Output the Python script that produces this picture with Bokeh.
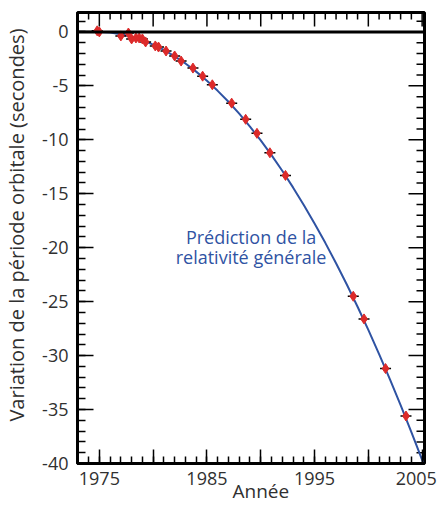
import math
from bokeh.plotting import figure
from bokeh.models import Range1d, SingleIntervalTicker, Span, Label
from bokeh.embed import file_html
from bokeh.resources import INLINE

# observed data (year, cumulative shift in seconds)
obs_year = [1974.8, 1975.0, 1977.0, 1977.7, 1978.0, 1978.4, 1978.7, 1979.0, 1979.3,
            1980.2, 1980.5, 1981.2, 1982.0, 1982.6, 1983.7, 1984.6, 1985.5,
            1987.3, 1988.6, 1989.65, 1990.85, 1992.3, 1998.6, 1999.6, 2001.6, 2003.5]
obs_shift = [0.1, 0.0, -0.37, -0.1, -0.65, -0.56, -0.56, -0.65, -0.93,
             -1.3, -1.4, -1.77, -2.23, -2.7, -3.35, -4.1, -4.9,
             -6.6, -8.1, -9.4, -11.2, -13.3, -24.5, -26.6, -31.2, -35.6]

# general relativity prediction curve
gr_year = [1975, 1976, 1977, 1978, 1979, 1980, 1981, 1982, 1983, 1984, 1985, 1986,
           1987, 1988, 1989, 1990, 1991, 1992, 1993, 1994, 1995, 1996, 1997, 1998,
           1999, 2000, 2001, 2002, 2003, 2004, 2005, 2005.3]
gr_shift = [0.0, -0.06, -0.21, -0.45, -0.77, -1.18, -1.67, -2.26, -2.92, -3.68, -4.53, -5.46,
            -6.47, -7.58, -8.77, -10.05, -11.42, -12.87, -14.41, -16.04, -17.75, -19.55, -21.44, -23.41,
            -25.47, -27.62, -29.86, -32.18, -34.59, -37.09, -39.67, -40.47]

NB = "\u00a0"
x_tick_vals = [1975, 1980, 1985, 1990, 1995, 2000, 2005]
x_tick_text = ["1975", "", "1985", "", "1995", "", "2005" + NB]
y_tick_vals = [0, -5, -10, -15, -20, -25, -30, -35, -40]
y_tick_text = ["0", "-5", "-10", "-15", "-20", "-25", "-30", "-35", "-40"]
annot_lines = ["Prédiction de la", "relativité générale"]
annot_year = 1989.1
annot_shift = [-19.0, -20.9]
x_title = NB * 4 + "Année"
y_title = NB * 5 + "Variation de la période orbitale (secondes)"

X0, X1 = 1972.97, 2005.22
Y0, Y1 = -40.0, 1.8

# tick positions for the mirrored top / right ticks
top_major = [y for y in range(1975, 2006, 5)]
top_minor = [y for y in range(1973, 2006) if y % 5]
right_major = [v for v in range(-40, 1, 5)]
right_minor = [v for v in range(-40, 2) if v % 5]

FONT = "Open Sans"
TXT = "#303030"
BLUE = "#2f53a3"
RED = "#dc2a2a"

p = figure(width=441, height=506, output_backend="svg", toolbar_location=None,
           x_range=Range1d(X0, X1), y_range=Range1d(Y0, Y1),
           min_border_left=77, min_border_right=17, min_border_top=12, min_border_bottom=42)
p.grid.visible = False
p.outline_line_color = "black"
p.outline_line_width = 3
p.background_fill_color = "white"
p.border_fill_color = "white"

def style(ax, ticker, major, minor):
    ax.ticker = ticker
    ax.axis_line_color = "black"
    ax.axis_line_width = 3
    ax.major_tick_in = major
    ax.major_tick_out = 0
    ax.minor_tick_in = minor
    ax.minor_tick_out = 0
    ax.major_tick_line_color = "black"
    ax.major_tick_line_width = 1.5
    ax.minor_tick_line_color = "black"
    ax.minor_tick_line_width = 1.5
    ax.major_label_text_font = FONT
    ax.major_label_text_font_size = "18px"
    ax.major_label_text_color = TXT
    ax.axis_label_text_font = FONT
    ax.axis_label_text_font_style = "normal"
    ax.axis_label_text_color = TXT

xa = p.xaxis[0]
style(xa, SingleIntervalTicker(interval=5, num_minor_ticks=5), 14, 7)
xa.major_label_overrides = dict(zip(x_tick_vals, x_tick_text))
xa.major_label_standoff = 2
xa.axis_label = x_title
xa.axis_label_text_font_size = "19px"
xa.axis_label_standoff = -15

ya = p.yaxis[0]
style(ya, SingleIntervalTicker(interval=5, num_minor_ticks=5), 16, 8)
ya.major_label_overrides = dict(zip(y_tick_vals, y_tick_text))
ya.major_label_standoff = 9
ya.axis_label = y_title
ya.axis_label_text_font_size = "20px"
ya.axis_label_standoff = 9

# mirrored ticks on top and right (glyphs are clipped to the frame, so only the inner half shows)
p.scatter(top_major, [Y1] * len(top_major), marker="dash", size=28, angle=math.pi / 2,
          line_color="black", line_width=1.5)
p.scatter(top_minor, [Y1] * len(top_minor), marker="dash", size=14, angle=math.pi / 2,
          line_color="black", line_width=1.5)
p.scatter([X1] * len(right_major), right_major, marker="dash", size=32,
          line_color="black", line_width=1.5)
p.scatter([X1] * len(right_minor), right_minor, marker="dash", size=16,
          line_color="black", line_width=1.5)

p.add_layout(Span(location=0, dimension="width", line_color="black", line_width=3))

p.line(gr_year, gr_shift, line_color=BLUE, line_width=2)
p.scatter(obs_year, obs_shift, marker="dash", size=11, line_color="black", line_width=1.5)
p.scatter(obs_year, obs_shift, marker="diamond", size=10, fill_color=RED, line_color=RED)

for txt, yv in zip(annot_lines, annot_shift):
    p.add_layout(Label(x=annot_year, y=yv, text=txt, text_align="center", text_baseline="middle",
                       text_font=FONT, text_font_size="18px", text_color=BLUE))

open("out.html", "w").write(file_html(p, INLINE))
